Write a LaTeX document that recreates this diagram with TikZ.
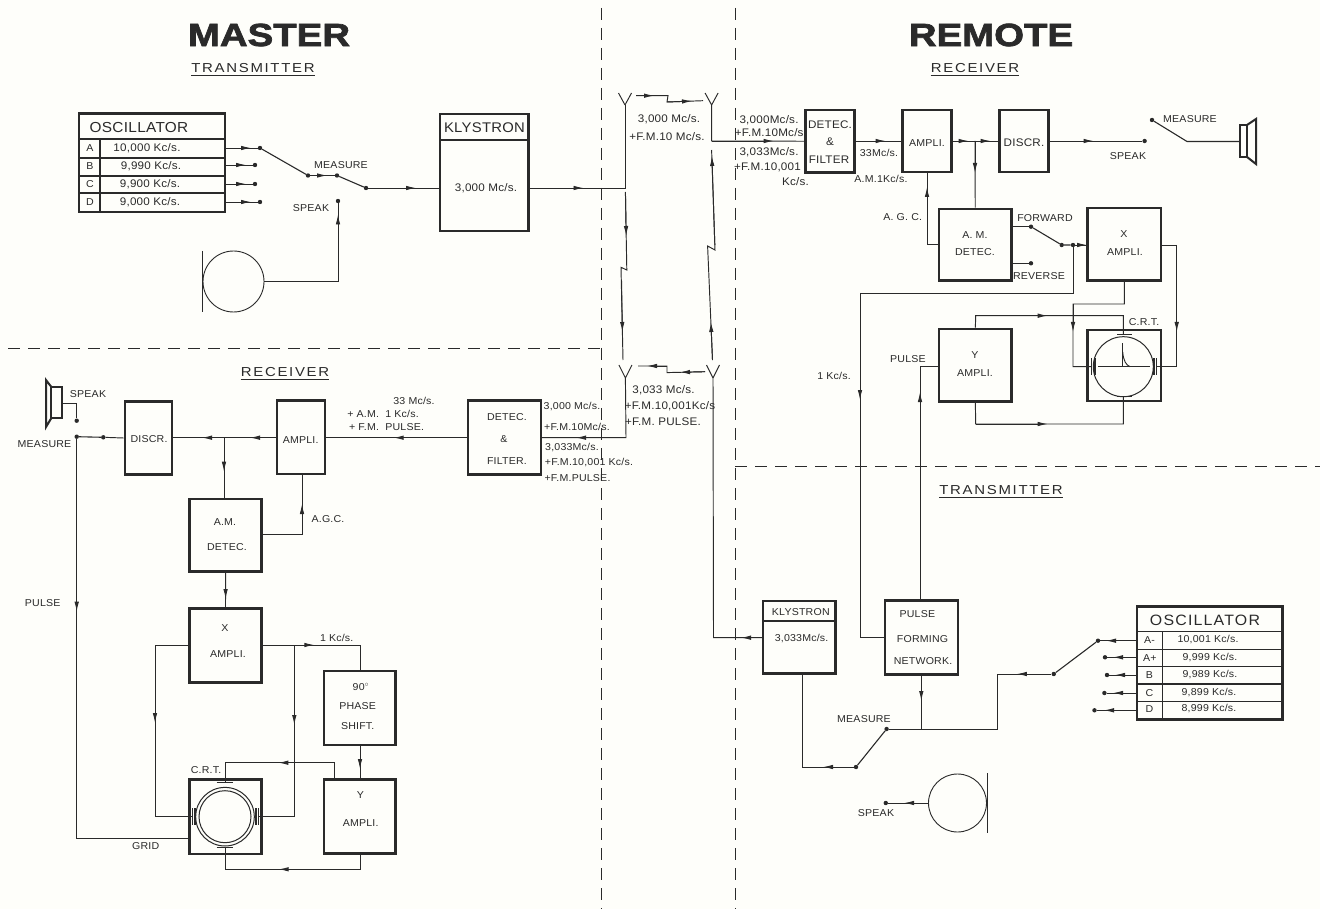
\documentclass[tikz,border=0pt]{standalone}
\usepackage{fontspec}
\setmainfont[FakeStretch=1.06,LetterSpace=2]{Liberation Sans}
\newfontfamily\titlefont[FakeStretch=1.2,BoldFeatures={FakeBold=2.2}]{Liberation Sans}
\newfontfamily\underfont[FakeStretch=1.15,LetterSpace=13]{Liberation Sans}
\usetikzlibrary{arrows.meta}
\definecolor{paper}{HTML}{FEFEFA}
\definecolor{ink}{HTML}{2A2A2A}
\tikzset{
  wire/.style={draw=ink,line width=0.95pt},
  flow/.style={wire,-{Latex[length=10pt,width=4.5pt]}},
  arm/.style={draw=ink,line width=1.1pt},
  border/.style={draw=ink,dash pattern=on 12pt off 8pt,line width=0.9pt},
  sized/.style 2 args={minimum width=#1pt,minimum height=#2pt},
  blockbox/.style={draw=ink,line width=2.6pt,inner sep=0pt},
  rule/.style={draw=ink,line width=1.2pt},
  cone/.style={draw=ink,line width=2pt},
  dot/.style={circle,fill=ink,inner sep=0pt,minimum size=4.4pt},
  lab/.style={inner sep=0pt,text=ink,font=\fontsize{10}{12}\selectfont},
  big/.style={inner sep=0pt,text=ink,font=\fontsize{11}{13}\selectfont},
  head/.style={inner sep=0pt,text=ink,font=\fontsize{14.5}{16}\selectfont},
  under/.style={inner xsep=0pt,inner ysep=2.5pt,text=ink,font=\underfont\fontsize{13}{15}\selectfont},
  side/.style={inner sep=0pt,text=ink,font=\titlefont\bfseries\fontsize{32}{36}\selectfont},
}
\begin{document}
\begin{tikzpicture}[x=1pt,y=-1pt]
    \path[use as bounding box,fill=paper] (0,0) rectangle (1320,909);

    % zone borders
    \draw[border] (601,8)--(601,909);
    \draw[border] (735,8)--(735,909);
    \draw[border] (8,348)--(600,348);
    \draw[border] (735,466)--(1320,466);

    % headings
    \node[side] (titleM) at (269,35) {MASTER};
    \node[side] (titleR) at (991,35) {REMOTE};
    \node[under] (headMt) at (253,68) {TRANSMITTER};
    \node[under] (headRr) at (975,68) {RECEIVER};
    \node[under] (headMr) at (285,372.5) {RECEIVER};
    \node[under] (headRt) at (1001,490) {TRANSMITTER};
    \draw[rule] (headMt.south west)--(headMt.south east);
    \draw[rule] (headRr.south west)--(headRr.south east);
    \draw[rule] (headMr.south west)--(headMr.south east);
    \draw[rule] (headRt.south west)--(headRt.south east);

    % master transmitter
    \node[blockbox,sized={146}{98.5}] (oscM) at (152,162.75) {};
    \draw[rule] (79,139)--(225,139);
    \draw[rule] (79,158)--(225,158);
    \draw[rule] (79,176)--(225,176);
    \draw[rule] (79,193)--(225,193);
    \draw[rule] (100,139)--(100,212);
    \node[head] (oscMt) at (139,128) {OSCILLATOR};
    \node[lab] (oscMa) at (90,148) {A};
    \node[lab] (oscMb) at (90,166) {B};
    \node[lab] (oscMc) at (90,184) {C};
    \node[lab] (oscMd) at (90,202) {D};
    \node[big] (oscMav) at (147,148) {10,000 Kc/s.};
    \node[big] (oscMbv) at (151,166) {9,990 Kc/s.};
    \node[big] (oscMcv) at (150,184) {9,900 Kc/s.};
    \node[big] (oscMdv) at (150,202) {9,000 Kc/s.};
    \coordinate (outMa) at (225,148);
    \coordinate (outMb) at (225,165);
    \coordinate (outMc) at (225,184);
    \coordinate (outMd) at (225,202);
    \node[dot] (dotMa) at (260,148) {};
    \node[dot] (dotMb) at (255,165) {};
    \node[dot] (dotMc) at (255,184) {};
    \node[dot] (dotMd) at (260,202) {};
    \draw[wire] (outMa)--(dotMa);
    \draw[wire] (outMb)--(dotMb);
    \draw[wire] (outMc)--(dotMc);
    \draw[wire] (outMd)--(dotMd);
    \draw[flow] (outMa)--++(26,0);
    \draw[flow] (outMb)--++(21,0);
    \draw[flow] (outMc)--++(21,0);
    \draw[flow] (outMd)--++(26,0);
    \node[dot] (swMa) at (308,175.5) {};
    \node[dot] (swMb) at (337,175.5) {};
    \node[dot] (swMc) at (366,188) {};
    \draw[arm] (dotMa)--(swMa);
    \draw[wire] (swMa)--(swMb);
    \draw[flow] (swMa)--++(19,0);
    \draw[arm] (swMb)--(swMc);
    \node[lab] (measMt) at (341,165) {MEASURE};
    \node[lab] (speakMt) at (311,208) {SPEAK};
    \node[dot] (dotMs) at (338,201) {};
    \node[circle,draw=ink,line width=0.9pt,inner sep=0pt,minimum size=61pt] (micM) at (233.5,281.5) {};
    \draw[rule] (202.5,251)--(202.5,312);
    \draw[wire] (micM.east) -| (dotMs);
    \draw[flow] (dotMs |- micM.east)--++(0,-67);

    \node[blockbox,sized={88.5}{117}] (klyM) at (484.25,172.5) {};
    \draw[rule] (440,140)--(528.5,140);
    \node[head,font=\fontsize{14}{16}\selectfont] (klyMt) at (484.5,127.5) {KLYSTRON};
    \node[big] (klyMf) at (486,188) {3,000 Mc/s.};
    \coordinate (klyMi) at (440,188);
    \coordinate (klyMo) at (528.5,188);
    \draw[wire] (swMc)--(klyMi);
    \draw[flow] (swMc)--++(50,0);

    % radio links
    \coordinate (aeMt) at (625,105);
    \coordinate (aeRr) at (711.6,105);
    \coordinate (aeMr) at (625.4,378);
    \coordinate (aeRt) at (713,378);
    \draw[wire] (aeMt)--++(-6.5,-12) (aeMt)--++(6.5,-12);
    \draw[wire] (aeRr)--++(-6.5,-12) (aeRr)--++(6.5,-12);
    \draw[wire] (aeMr)--++(-6.5,-13) (aeMr)--++(6.5,-13);
    \draw[wire] (aeRt)--++(-6.5,-13) (aeRt)--++(6.5,-13);
    \coordinate (joinMt) at (625,188);
    \draw[wire] (klyMo)--(joinMt)--(aeMt);
    \draw[flow] (klyMo)--++(55,0);
    \draw[wire] (636,95.7)--(668,95.7)--(667,102)--(703,100.7);
    \draw[flow] (636,95.7)--(654,95.7);
    \draw[flow] (667,102)--(692,101.1);
    \draw[wire] (705,371.7)--(667,372.6)--(667,366)--(638,366);
    \draw[flow] (705,371.7)--(680,372.3);
    \draw[flow] (667,366)--(647,366);
    \draw[wire] (625.4,192)--(626.8,270)--(621,267.3)--(623,360);
    \draw[flow] (625.5,195)--(626.2,236);
    \draw[flow] (621.5,280)--(622.4,332);
    \draw[wire] (712.5,360)--(707.6,246)--(715,250)--(711.6,150);
    \draw[flow] (712.5,360)--(710.9,322);
    \draw[flow] (714.8,245)--(711.9,156);
    \node[big] (linkMf) at (669,119) {3,000 Mc/s.};
    \node[big] (linkMm) at (667,137) {+F.M.10 Mc/s.};
    \node[big] (linkRf) at (663.5,390) {3,033 Mc/s.};
    \node[big] (linkRm) at (670,406) {+F.M.10,001Kc/s};
    \node[big] (linkRp) at (663,421.7) {+F.M. PULSE.};

    % remote receiver
    \node[blockbox,sized={48.5}{62.5}] (detR) at (830,141.25) {};
    \node[big] (detRa) at (830,125) {DETEC.};
    \node[big] (detRb) at (830,142) {\&};
    \node[big] (detRc) at (829,160) {FILTER};
    \node[blockbox,sized={48.5}{62}] (ampR) at (927,141) {};
    \node[lab] (ampRt) at (927,143) {AMPLI.};
    \node[blockbox,sized={48.5}{62}] (disR) at (1024,141) {};
    \node[big] (disRt) at (1024,143) {DISCR.};
    \draw[wire] (aeRr)--(711.6,141)--(detR.west);
    \draw[flow] (711.6,141)--++(62,0);
    \draw[wire] (detR.east |- ampR.west)--(ampR.west);
    \draw[flow] (detR.east |- ampR.west)--++(30,0);
    \draw[wire] (ampR.east)--(disR.west);
    \draw[flow] (ampR.east)--++(16,0);
    \draw[flow] (ampR.east)--++(38,0);
    \node[blockbox,sized={72.5}{71.7}] (amdR) at (975.25,244.85) {};
    \node[lab] (amdRa) at (975,235) {A. M.};
    \node[lab] (amdRb) at (975,252) {DETEC.};
    \coordinate (tapR) at (975,141);
    \draw[wire] (tapR)--(amdR.north);
    \draw[flow] (tapR)--++(0,32);
    \coordinate (ampRb) at (927,172);
    \coordinate (amdRw) at (939,244);
    \draw[wire] (amdRw) -| (ampRb);
    \draw[flow] (927,244)--(927,187);
    \node[lab] (agcR) at (902.7,216.7) {A. G. C.};
    \node[dot] (dotRs) at (1144.6,141) {};
    \draw[wire] (disR.east)--(dotRs);
    \draw[flow] (disR.east)--++(44,0);
    \node[lab] (speakRr) at (1128,156) {SPEAK};
    \node[lab] (measRr) at (1190,118.7) {MEASURE};
    \node[dot] (dotRm) at (1152,120) {};
    \coordinate (pivotR) at (1187,141.5);
    \coordinate (spkR) at (1240,141.5);
    \draw[arm] (dotRm)--(pivotR)--(spkR);
    \draw[cone] (1240,125) rectangle (1247,157);
    \draw[cone] (1247,125)--(1256,119)--(1256,164)--(1247,157);
    \node[big] (rxRa) at (769,120.7) {3,000Mc/s.};
    \node[big] (rxRb) at (771,133) {+F.M.10Mc/s.};
    \node[big] (rxRc) at (769,152.7) {3,033Mc/s.};
    \node[big] (rxRd) at (767.5,167.7) {+F.M.10,001};
    \node[big] (rxRe) at (795.5,182) {Kc/s.};
    \node[lab] (ifRa) at (879,153) {33Mc/s.};
    \node[lab] (ifRb) at (881,179) {A.M.1Kc/s.};

    % forward and reverse switch
    \node[lab] (fwdR) at (1045,218) {FORWARD};
    \node[lab] (revR) at (1039,275.7) {REVERSE};
    \node[dot] (dotRf) at (1031,226.7) {};
    \node[dot] (dotRr) at (1031,263.3) {};
    \node[dot] (swRo) at (1061.7,245) {};
    \node[dot] (dotRj) at (1073,245) {};
    \draw[wire] (1011.5,226.7)--(dotRf);
    \draw[wire] (1011.5,263.3)--(dotRr);
    \draw[arm] (dotRf)--(swRo)--(dotRj);
    \node[blockbox,sized={73.3}{72.7}] (xR) at (1124.35,244.35) {};
    \node[lab] (xRa) at (1124,234) {X};
    \node[lab] (xRb) at (1125,252) {AMPLI.};
    \draw[wire] (dotRj)--(xR.west |- dotRj);
    \draw[flow] (dotRj)--++(14,0);

    % remote display
    \node[blockbox,sized={73.3}{71}] (crtR) at (1124.35,365.5) {};
    \node[circle,draw=ink,line width=1pt,inner sep=0pt,minimum size=60pt] (tubeR) at (1123.3,366.7) {};
    \node[lab] (crtRt) at (1144,321.7) {C.R.T.};
    \draw[rule] (1117,334.3)--(1131.7,334.3);
    \draw[rule] (1117,396.7)--(1131.7,396.7);
    \draw[rule] (1091.7,358)--(1091.7,375);
    \draw[rule] (1095,358)--(1095,375);
    \draw[rule] (1154,358)--(1154,375);
    \draw[rule] (1156.7,358)--(1156.7,375);
    \draw[wire] (1098,366.7)--(1150,366.7);
    \draw[wire] (1122.7,343)--(1122.7,366.7);
    \draw[wire] (1122.7,352) .. controls (1123.5,361) and (1126,365) .. (1130,366.7);
    \coordinate (xRb1) at (1124.3,304);
    \coordinate (xRb2) at (1073,304);
    \coordinate (plateRl) at (1091.7,366.7);
    \coordinate (plateRr) at (1156.7,366.7);
    \draw[wire] (xR.south)--(xRb1)--(xRb2)|-(plateRl);
    \draw[flow] (xRb2)--++(0,28);
    \coordinate (xRo) at (1161,245);
    \coordinate (xRc) at (1176.7,245);
    \draw[wire] (xRo)--(xRc)|-(plateRr);
    \draw[flow] (xRc)--++(0,87);
    \node[blockbox,sized={72.7}{72.7}] (yR) at (975.35,365.35) {};
    \node[lab] (yRa) at (975,355) {Y};
    \node[lab] (yRb) at (975,372.7) {AMPLI.};
    \coordinate (plateRt) at (1123.3,334.3);
    \coordinate (plateRb) at (1123.3,396.7);
    \coordinate (busRt) at (975.7,315.7);
    \coordinate (busRb) at (975.7,424);
    \draw[wire] (yR.north)--(busRt)-|(plateRt);
    \draw[flow] (busRt)--++(72,0);
    \draw[wire] (yR.south)--(busRb)-|(plateRb);
    \draw[flow] (busRb)--++(72,0);
    \node[lab] (pulseR) at (908,359) {PULSE};
    \node[lab] (kcR) at (834,376) {1 Kc/s.};

    % remote transmitter
    \node[blockbox,sized={73}{73.6}] (netR) at (921.5,637.5) {};
    \node[lab] (netRa) at (917.4,614) {PULSE};
    \node[lab] (netRb) at (922.5,639) {FORMING};
    \node[lab] (netRc) at (923,660.7) {NETWORK.};
    \coordinate (yRw) at (939,366.7);
    \coordinate (pulseRb) at (920,366.7);
    \coordinate (netRt) at (920,600.7);
    \draw[wire] (yRw)--(pulseRb)--(netRt);
    \draw[flow] (netRt)--(920,392);
    \coordinate (kcRa) at (1073,293);
    \coordinate (kcRb) at (860,293);
    \coordinate (netRw) at (885,637.7);
    \draw[wire] (dotRj)--(kcRa)--(kcRb)|-(netRw);
    \draw[flow] (kcRb)--++(0,107);
    \node[blockbox,sized={72.6}{72.7}] (klyR) at (799.3,637.35) {};
    \draw[rule] (763,621)--(835.6,621);
    \node[lab] (klyRt) at (800.8,612) {KLYSTRON};
    \node[lab] (klyRf) at (801.6,639) {3,033Mc/s.};
    \coordinate (klyRw) at (763,637.7);
    \coordinate (aeRj) at (713.5,637.7);
    \draw[wire] (aeRt)--(aeRj)--(klyRw);
    \draw[flow] (klyRw)--++(-22,0);
    \node[dot] (swRb) at (856,767) {};
    \node[dot] (swRa) at (886.6,729) {};
    \coordinate (klyRb) at (802.8,674);
    \draw[wire] (klyRb)|-(swRb);
    \draw[flow] (swRb)--++(-33,0);
    \draw[arm] (swRb)--(swRa);
    \node[lab] (measRt) at (864,719) {MEASURE};
    \coordinate (netRs) at (921.3,674);
    \coordinate (netRj) at (921.3,729);
    \draw[wire] (netRs)--(netRj);
    \draw[flow] (netRs)--++(0,27);
    \node[dot] (swRd) at (1053.8,674) {};
    \node[dot] (swRc) at (1098,640.7) {};
    \coordinate (busRa) at (997,729);
    \coordinate (busRc) at (997,674);
    \draw[wire] (swRa)--(busRa)--(busRc)--(swRd);
    \draw[flow] (swRd)--++(-37,0);
    \draw[arm] (swRd)--(swRc);
    \node[blockbox,sized={145.4}{112.6}] (oscR) at (1209.7,663) {};
    \draw[rule] (1137,631.7)--(1282.4,631.7);
    \draw[rule] (1137,649.3)--(1282.4,649.3);
    \draw[rule] (1137,666.7)--(1282.4,666.7);
    \draw[rule] (1137,684)--(1282.4,684);
    \draw[rule] (1137,701.7)--(1282.4,701.7);
    \draw[rule] (1162.6,631.7)--(1162.6,719.3);
    \node[head,font=\fontsize{15}{16}\selectfont\addfontfeature{LetterSpace=8}] (oscRt) at (1205,620.7) {OSCILLATOR};
    \node[lab] (oscRa) at (1149.4,640) {A-};
    \node[lab] (oscRp) at (1149.8,657.7) {A+};
    \node[lab] (oscRb) at (1149.4,675) {B};
    \node[lab] (oscRc) at (1149.4,693) {C};
    \node[lab] (oscRd) at (1149.4,709) {D};
    \node[lab] (oscRav) at (1208,640) {10,001 Kc/s.};
    \node[lab] (oscRpv) at (1210,657.7) {9,999 Kc/s.};
    \node[lab] (oscRbv) at (1210,675) {9,989 Kc/s.};
    \node[lab] (oscRcv) at (1209,693) {9,899 Kc/s.};
    \node[lab] (oscRdv) at (1209,709) {8,999 Kc/s.};
    \coordinate (outRa) at (1137,640.7);
    \coordinate (outRp) at (1137,657.3);
    \coordinate (outRb) at (1137,675);
    \coordinate (outRc) at (1137,693);
    \coordinate (outRd) at (1137,710.3);
    \node[dot] (dotRp) at (1105,657.3) {};
    \node[dot] (dotRb) at (1107,675) {};
    \node[dot] (dotRc) at (1104.4,693) {};
    \node[dot] (dotRd) at (1094.5,710.3) {};
    \draw[wire] (outRa)--(swRc);
    \draw[wire] (outRp)--(dotRp);
    \draw[wire] (outRb)--(dotRb);
    \draw[wire] (outRc)--(dotRc);
    \draw[wire] (outRd)--(dotRd);
    \draw[flow] (outRa)--++(-31,0);
    \draw[flow] (outRp)--++(-24,0);
    \draw[flow] (outRb)--++(-22,0);
    \draw[flow] (outRc)--++(-24,0);
    \draw[flow] (outRd)--++(-33,0);
    \node[circle,draw=ink,line width=0.9pt,inner sep=0pt,minimum size=58pt] (micR) at (957.5,803) {};
    \draw[rule] (987.7,773)--(987.7,833);
    \node[dot] (dotRk) at (885.8,803) {};
    \draw[wire] (micR.west)--(dotRk);
    \draw[flow] (micR.west)--++(-24,0);
    \node[lab] (speakRt) at (876,813.5) {SPEAK};

    % master receiver
    \node[blockbox,sized={73}{73.6}] (detM) at (504.5,437.5) {};
    \node[lab] (detMa) at (507,416.7) {DETEC.};
    \node[lab] (detMb) at (504,439) {\&};
    \node[lab] (detMc) at (507,461) {FILTER.};
    \coordinate (detMe) at (541,437.7);
    \draw[wire] (aeMr)--(626,437.7)--(detMe);
    \draw[flow] (626,437.7)--++(-50,0);
    \node[lab] (rxMa) at (572,406.7) {3,000 Mc/s.};
    \node[lab] (rxMb) at (577,427) {+F.M.10Mc/s.};
    \node[lab] (rxMc) at (572,448) {3,033Mc/s.};
    \node[lab] (rxMd) at (589,463) {+F.M.10,001 Kc/s.};
    \node[lab] (rxMe) at (577.5,478) {+F.M.PULSE.};
    \node[blockbox,sized={48}{73.3}] (ampM) at (301,437.35) {};
    \node[lab] (ampMt) at (300.7,440) {AMPLI.};
    \node[blockbox,sized={47}{72.6}] (disM) at (148.5,438) {};
    \node[lab] (disMt) at (149,439.3) {DISCR.};
    \coordinate (ampMe) at (325,437.7);
    \coordinate (ampMw) at (277,437.7);
    \coordinate (disMe) at (172,437.7);
    \coordinate (tapM) at (224,437.7);
    \draw[wire] (detM.west |- detMe)--(ampMe);
    \draw[flow] (detM.west |- detMe)--++(-73,0);
    \draw[wire] (ampMw)--(disMe);
    \draw[flow] (ampMw)--++(-27,0);
    \draw[flow] (tapM)--++(-22,0);
    \node[lab] (ifMa) at (414,400.7) {33 Mc/s.};
    \node[lab] (ifMb) at (383,414) {+ A.M. \ 1 Kc/s.};
    \node[lab] (ifMc) at (386.6,426.7) {+ F.M. \ PULSE.};
    \node[blockbox,sized={72}{72.7}] (amdM) at (225.6,535.35) {};
    \node[lab] (amdMa) at (225,521.7) {A.M.};
    \node[lab] (amdMb) at (227,546.7) {DETEC.};
    \draw[wire] (tapM)--(tapM |- amdM.north);
    \draw[flow] (tapM)--++(0,34);
    \coordinate (amdMe) at (261.7,534);
    \coordinate (ampMb) at (302,474);
    \draw[wire] (amdMe)-|(ampMb);
    \draw[flow] (302,534)--++(0,-30);
    \node[lab] (agcM) at (328,519.3) {A.G.C.};
    \node[lab] (speakMr) at (88,394) {SPEAK};
    \node[lab] (measMr) at (44.5,444) {MEASURE};
    \node[dot] (dotMk) at (76.7,420.7) {};
    \node[dot] (swMk) at (103.3,437.3) {};
    \node[dot] (swMm) at (76.7,436.7) {};
    \draw[wire] (disM.west)--(swMk);
    \draw[arm] (swMk)--(swMm);
    \coordinate (spkM) at (62,403);
    \draw[wire] (spkM)-|(dotMk);
    \draw[cone] (51.4,386.7) rectangle (62,418);
    \draw[cone] (51.4,387)--(46,380)--(46,427)--(51.4,418);

    % master display
    \node[blockbox,sized={72.4}{74}] (xM) at (225.5,645.3) {};
    \node[lab] (xMa) at (225,627.7) {X};
    \node[lab] (xMb) at (228,654) {AMPLI.};
    \draw[wire] (amdM.south)--(xM.north);
    \draw[flow] (amdM.south)--++(0,26);
    \node[blockbox,sized={72.4}{74.7}] (crtM) at (225.5,816.65) {};
    \node[circle,draw=ink,line width=1pt,inner sep=0pt,minimum size=58.6pt] (tubeMa) at (225,816.7) {};
    \node[circle,draw=ink,line width=1pt,inner sep=0pt,minimum size=52pt] (tubeMb) at (225,816.7) {};
    \node[lab] (crtMt) at (206,770) {C.R.T.};
    \draw[rule] (216.7,782.7)--(233.3,782.7);
    \draw[rule] (216.7,847.7)--(233.3,847.7);
    \draw[rule] (192.7,808)--(192.7,825);
    \draw[rule] (195,808)--(195,825);
    \draw[rule] (256,808)--(256,825);
    \draw[rule] (258.3,808)--(258.3,825);
    \coordinate (xMw) at (189.3,645);
    \coordinate (xMe) at (261.7,645);
    \coordinate (xMl) at (155,645);
    \coordinate (plateMl) at (193,816);
    \coordinate (plateMr) at (258,816);
    \coordinate (xMj) at (294.3,645);
    \coordinate (xMk) at (360,645);
    \draw[wire] (xMw)--(xMl)|-(plateMl);
    \draw[flow] (xMl)--++(0,78);
    \node[blockbox,sized={71.7}{74}] (phM) at (359.85,708) {};
    \node[lab] (phMa) at (361,686.7) {90$^{\circ}$};
    \node[lab] (phMb) at (357.7,705.7) {PHASE};
    \node[lab] (phMc) at (357.7,725.7) {SHIFT.};
    \draw[wire] (xMe)--(xMk)--(xMk |- phM.north);
    \draw[flow] (xMj)--++(20,0);
    \draw[wire] (xMj)|-(plateMr);
    \draw[flow] (xMj)--++(0,80);
    \node[lab] (kcM) at (336.7,637.7) {1 Kc/s.};
    \node[blockbox,sized={71.7}{74}] (yM) at (359.85,816.3) {};
    \node[lab] (yMa) at (360.3,795) {Y};
    \node[lab] (yMb) at (360.7,822.7) {AMPLI.};
    \coordinate (phMb1) at (360,745);
    \coordinate (yMt) at (360,779.3);
    \draw[wire] (phMb1)--(yMt);
    \draw[flow] (phMb1)--++(0,24);
    \coordinate (yMu) at (334.3,779.3);
    \coordinate (busMt) at (334.3,762.7);
    \coordinate (plateMt) at (225,782.7);
    \draw[wire] (yMu)--(busMt)-|(plateMt);
    \draw[flow] (busMt)--++(-56,0);
    \coordinate (yMb1) at (360.7,853.3);
    \coordinate (busMb) at (360.7,869.3);
    \coordinate (plateMb) at (225,847.7);
    \draw[wire] (yMb1)--(busMb)-|(plateMb);
    \draw[flow] (busMb)--++(-82,0);
    \coordinate (gridM) at (189.3,838);
    \draw[wire] (swMm)|-(gridM);
    \draw[flow] (swMm)--++(0,175);
    \node[lab] (pulseM) at (42.7,603) {PULSE};
    \node[lab] (gridMt) at (145.7,845.7) {GRID};
\end{tikzpicture}
\end{document}
